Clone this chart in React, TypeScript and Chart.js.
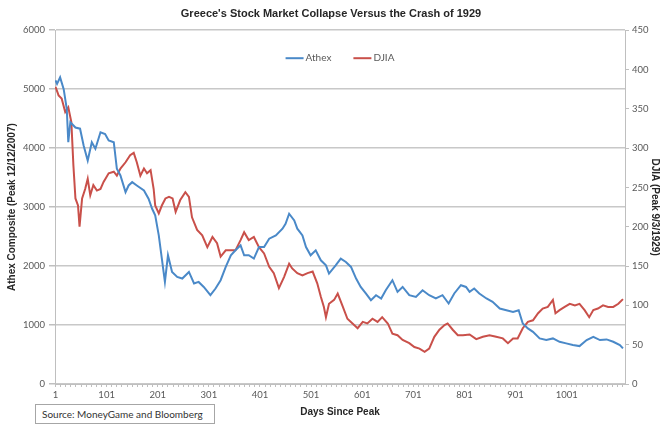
import React, { useEffect, useRef } from 'react';
import { Chart, registerables } from 'chart.js';

Chart.register(...registerables);

const chartTitle = "Greece's Stock Market Collapse Versus the Crash of 1929";
const xAxisTitle = 'Days Since Peak';
const leftAxisTitle = 'Athex Composite (Peak 12/12/2007)';
const rightAxisTitle = 'DJIA (Peak 9/3/1929)';
const sourceText = 'Source: MoneyGame and Bloomberg';
const athexLabel = 'Athex';
const djiaLabel = 'DJIA';

const xTickLabels = [1, 101, 201, 301, 401, 501, 601, 701, 801, 901, 1001];

const athexDays = [
  1, 4, 10, 17, 23, 26, 30, 40, 49, 56, 64, 72, 79, 89, 98, 105, 115, 121, 128, 138,
  144, 151, 160, 174, 183, 190, 196, 203, 209, 215, 221, 229, 239, 249, 262, 272, 281, 291, 304, 314,
  324, 334, 344, 353, 363, 370, 379, 389, 399, 409, 419, 432, 445, 451, 458, 468, 474, 484, 491, 500,
  510, 520, 530, 536, 549, 559, 569, 579, 589, 598, 608, 618, 628, 638, 647, 660, 670, 680, 693, 706,
  719, 732, 745, 758, 770, 781, 794, 804, 811, 820, 830, 844, 856, 870, 883, 896, 907, 915, 925, 935,
  948, 961, 974, 987, 1000, 1013, 1026, 1040, 1053, 1066, 1079, 1092, 1105, 1111,
];
const athexValues = [
  5150, 5090, 5200, 5000, 4665, 4100, 4440, 4350, 4330, 4045, 3790, 4100, 3990, 4270, 4240, 4130, 4100, 3650, 3536, 3254,
  3367, 3423, 3367, 3283, 3142, 2972, 2860, 2520, 2127, 1731, 2183, 1900, 1815, 1788, 1900, 1704, 1731, 1646, 1506, 1619,
  1760, 1985, 2183, 2267, 2352, 2183, 2183, 2127, 2323, 2323, 2465, 2520, 2634, 2718, 2888, 2775, 2634, 2520, 2323, 2183,
  2267, 2098, 2013, 1873, 2013, 2127, 2070, 1985, 1788, 1646, 1535, 1421, 1506, 1450, 1590, 1760, 1562, 1646, 1506, 1477,
  1590, 1506, 1450, 1506, 1365, 1535, 1675, 1646, 1562, 1619, 1535, 1450, 1393, 1280, 1252, 1223, 1252, 1027, 942, 885,
  773, 745, 773, 716, 689, 660, 643, 745, 800, 745, 756, 716, 660, 604,
];

const djiaDays = [
  1, 7, 13, 20, 26, 32, 36, 40, 45, 48, 53, 59, 64, 69, 75, 82, 89, 95, 105, 115,
  121, 128, 138, 147, 154, 160, 167, 174, 180, 187, 193, 196, 203, 209, 216, 223, 230, 236, 245, 255,
  262, 268, 278, 288, 298, 308, 317, 324, 334, 344, 353, 363, 370, 379, 389, 399, 409, 419, 428, 438,
  448, 458, 464, 474, 484, 494, 504, 513, 520, 526, 530, 536, 546, 553, 562, 572, 582, 592, 602, 611,
  621, 631, 640, 651, 660, 670, 680, 693, 703, 713, 723, 732, 742, 752, 762, 768, 778, 788, 798, 811,
  824, 837, 850, 863, 876, 886, 896, 905, 915, 925, 935, 945, 954, 964, 974, 979, 987, 997, 1007, 1017,
  1026, 1036, 1045, 1053, 1062, 1072, 1082, 1092, 1102, 1111,
];
const djiaValues = [
  378, 367, 363, 346, 352, 333, 278, 236, 227, 200, 236, 248, 261, 240, 253, 246, 248, 257, 268, 270,
  265, 274, 282, 291, 294, 282, 265, 274, 268, 272, 248, 227, 217, 227, 236, 238, 236, 219, 234, 244,
  238, 212, 196, 189, 174, 187, 179, 162, 170, 170, 170, 183, 193, 183, 187, 174, 166, 149, 141, 122,
  136, 153, 147, 141, 138, 141, 143, 128, 111, 98, 85, 102, 107, 115, 100, 83, 77, 71, 79, 77,
  83, 79, 85, 77, 64, 62, 56, 52, 47, 45, 41, 45, 60, 69, 75, 77, 69, 62, 62, 63,
  57, 60, 62, 60, 58, 52, 58, 58, 71, 79, 81, 90, 96, 98, 107, 90, 94, 98, 102, 100,
  102, 94, 85, 94, 96, 100, 98, 98, 102, 108,
];

const BLUE = '#4a89c8';
const RED = '#c9504a';
const TICK_FONT = { family: 'Lato, "Open Sans", sans-serif', size: 9.5 };
const TICK_COLOR = '#595959';
const AXIS_COLOR = '#bfbfbf';
const TITLE_FONT = { family: '"Liberation Sans", Arial, sans-serif', size: 10, weight: 'bold' as const };

const minorTicks: number[] = [];
for (let v = 1; v <= 1111; v += 10) minorTicks.push(v);

const innerLegend = {
  id: 'innerLegend',
  afterDraw(chart: any) {
    const { ctx, chartArea } = chart;
    ctx.save();
    ctx.font = '10px Lato, "Open Sans", sans-serif';
    const lineLen = 18;
    const gapText = 2;
    const gapItems = 22;
    const items = chart.data.datasets.map((d: any) => ({
      label: d.label,
      color: d.borderColor,
      w: ctx.measureText(d.label).width,
    }));
    const total = items.reduce((s: number, it: any) => s + lineLen + gapText + it.w, 0) + gapItems * (items.length - 1);
    let x = (chartArea.left + chartArea.right) / 2 - total / 2;
    const y = chartArea.top + 28;
    items.forEach((it: any) => {
      ctx.strokeStyle = it.color;
      ctx.lineWidth = 2;
      ctx.beginPath();
      ctx.moveTo(x, y);
      ctx.lineTo(x + lineLen, y);
      ctx.stroke();
      ctx.fillStyle = TICK_COLOR;
      ctx.textBaseline = 'middle';
      ctx.textAlign = 'left';
      ctx.fillText(it.label, x + lineLen + gapText, y);
      x += lineLen + gapText + it.w + gapItems;
    });
    ctx.restore();
  },
};

export default function App() {
  const canvasRef = useRef<HTMLCanvasElement | null>(null);

  useEffect(() => {
    if (!canvasRef.current) return;
    const chart = new Chart(canvasRef.current, {
      type: 'line',
      data: {
        datasets: [
          {
            label: athexLabel,
            data: athexDays.map((d, i) => ({ x: d, y: athexValues[i] })),
            borderColor: BLUE,
            backgroundColor: BLUE,
            borderWidth: 2,
            pointRadius: 0,
            tension: 0,
            yAxisID: 'y',
          },
          {
            label: djiaLabel,
            data: djiaDays.map((d, i) => ({ x: d, y: djiaValues[i] })),
            borderColor: RED,
            backgroundColor: RED,
            borderWidth: 2,
            pointRadius: 0,
            tension: 0,
            yAxisID: 'y1',
          },
        ],
      },
      options: {
        animation: false,
        responsive: false,
        layout: { padding: 0 },
        plugins: {
          legend: { display: false },
          tooltip: { enabled: false },
          title: {
            display: true,
            text: chartTitle,
            color: '#262626',
            font: { family: '"Liberation Sans", Arial, sans-serif', size: 11, weight: 'bold' },
            padding: { top: 7, bottom: 10 },
          },
        },
        scales: {
          x: {
            type: 'linear',
            min: 0,
            max: 1115,
            afterBuildTicks: (scale: any) => {
              scale.ticks = minorTicks.map((v) => ({ value: v }));
            },
            afterFit: (scale: any) => {
              scale.height = 44;
            },
            ticks: {
              autoSkip: false,
              maxRotation: 0,
              padding: 2,
              font: TICK_FONT,
              color: TICK_COLOR,
              callback: (v: any) => (xTickLabels.includes(Number(v)) ? String(v) : ''),
            },
            grid: { drawOnChartArea: false, tickLength: 3, color: AXIS_COLOR },
            border: { color: AXIS_COLOR },
            title: {
              display: true,
              text: xAxisTitle,
              color: '#262626',
              font: TITLE_FONT,
              padding: { top: 4, bottom: 10 },
            },
          },
          y: {
            position: 'left',
            min: 0,
            max: 6000,
            afterFit: (scale: any) => {
              scale.width = 55;
            },
            ticks: {
              stepSize: 1000,
              font: TICK_FONT,
              color: TICK_COLOR,
              padding: 4,
              callback: (v: any) => String(v),
            },
            grid: { color: '#c8c8c8', lineWidth: 1.5, tickLength: 6, tickColor: AXIS_COLOR },
            border: { color: AXIS_COLOR },
            title: {
              display: true,
              text: leftAxisTitle,
              color: '#262626',
              font: TITLE_FONT,
              padding: { top: 6, bottom: 0 },
            },
          },
          y1: {
            position: 'right',
            min: 0,
            max: 450,
            afterFit: (scale: any) => {
              scale.width = 37;
            },
            ticks: {
              stepSize: 50,
              font: TICK_FONT,
              color: TICK_COLOR,
              padding: 3,
              callback: (v: any) => String(v),
            },
            grid: { drawOnChartArea: false, tickLength: 4, color: AXIS_COLOR },
            border: { color: AXIS_COLOR },
            title: {
              display: true,
              text: rightAxisTitle,
              color: '#262626',
              font: TITLE_FONT,
              padding: { top: 1, bottom: 0 },
            },
          },
        },
      },
      plugins: [innerLegend],
    } as any);
    return () => chart.destroy();
  }, []);

  return (
    <div style={{ position: 'fixed', left: 0, top: 0, width: 662, height: 428, background: '#fff' }}>
      <canvas ref={canvasRef} width={662} height={428} style={{ width: 662, height: 428, display: 'block' }} />
      <div
        style={{
          position: 'absolute',
          left: 35,
          top: 404,
          width: 180,
          height: 20,
          border: '1px solid #a6a6a6',
          boxSizing: 'border-box',
          fontFamily: 'Lato, "Open Sans", sans-serif',
          fontSize: 10,
          lineHeight: '18px',
          color: '#333',
          paddingLeft: 6,
          whiteSpace: 'nowrap',
          background: '#fff',
        }}
      >
        {sourceText}
      </div>
    </div>
  );
}
